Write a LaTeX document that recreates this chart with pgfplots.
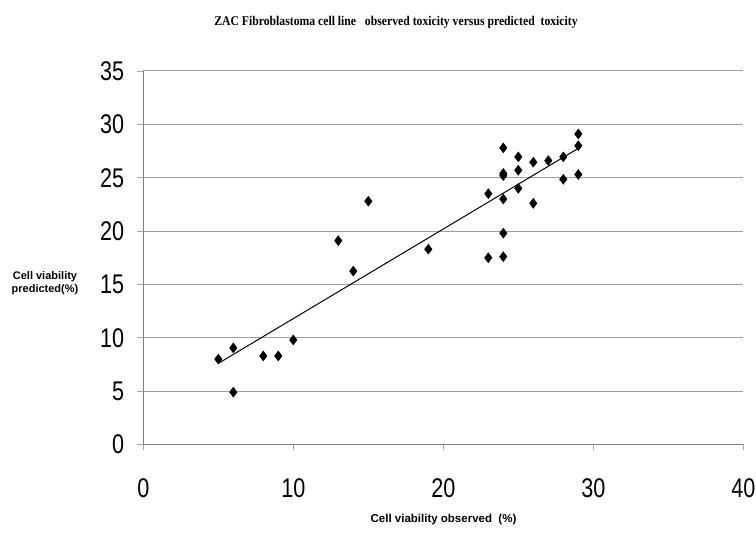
\documentclass[border=0pt]{standalone}
\usepackage{fontspec}
\setmainfont{Liberation Sans}
\newfontfamily\tickfamily[FakeStretch=0.8]{Liberation Sans}
\newfontfamily\titlefamily[FakeStretch=0.88]{Liberation Serif}
\usepackage{pgfplots}
\pgfplotsset{compat=1.18}

\begin{document}
\begin{tikzpicture}
\path[use as bounding box] (-143.3pt,-92.5pt) rectangle (612.7pt,444.5pt);
\begin{axis}[
  at={(0pt,0pt)}, anchor=south west,
  scale only axis,
  width=600pt, height=373.5pt,
  xmin=0, xmax=40, ymin=0, ymax=35,
  xtick={0,10,20,30,40},
  ytick={0,5,10,15,20,25,30,35},
  axis lines=left,
  axis line style={-, draw=black!50, line width=1pt},
  ymajorgrids,
  grid style={black!38, line width=1pt},
  tick align=outside,
  major tick length=6pt,
  tick style={black!35, line width=0.8pt},
  /pgf/number format/assume math mode=true,
  ticklabel style={font=\tickfamily\fontsize{27}{27}\selectfont, inner sep=0pt},
  xticklabel style={anchor=north, yshift=-28pt},
  yticklabel style={anchor=east, xshift=-13pt},
  clip=false,
]
\addplot[only marks, mark=diamond*, mark size=5pt, black] coordinates {
  (5,8.0) (6,9.05) (6,4.9) (8,8.3) (9,8.3) (10,9.8)
  (13,19.1) (14,16.25) (15,22.8) (19,18.3)
  (23,23.5) (23,17.5)
  (24,27.8) (24,25.4) (24,25.2) (24,23.0) (24,19.8) (24,17.6)
  (25,26.95) (25,25.7) (25,24.0)
  (26,26.45) (26,22.6) (27,26.6)
  (28,26.95) (28,24.85)
  (29,29.1) (29,28.0) (29,25.3)
};
\addplot[black, line width=1pt] coordinates {(5,7.6) (29,27.75)};
\end{axis}
\node[font=\titlefamily\bfseries\fontsize{13.3}{13.3}\selectfont] at (252.7pt,422.5pt)
  {ZAC Fibroblastoma cell line\ \ \ observed toxicity versus predicted\ \ toxicity};
\node[font=\bfseries\fontsize{11}{13.5}\selectfont, align=center] at (-98.3pt,161.5pt)
  {Cell viability\\predicted(\%)};
\node[font=\bfseries\fontsize{11.5}{11.5}\selectfont] at (300.2pt,-75.5pt)
  {Cell viability observed\ \ (\%)};
\end{tikzpicture}
\end{document}
